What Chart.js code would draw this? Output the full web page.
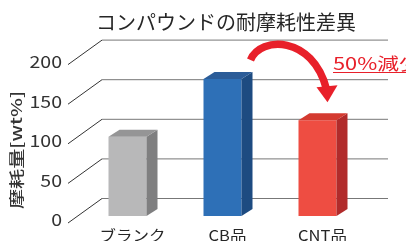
<!DOCTYPE html>
<html>
<head>
<meta charset="utf-8">
<script src="https://cdn.jsdelivr.net/npm/chart.js@4"></script>
<style>
  body { margin: 0; background: #fff; }
  #wrap { width: 406px; height: 241px; }
</style>
</head>
<body>
<div id="wrap"><canvas id="barChart" width="406" height="241"></canvas></div>
<script>
// data
var categories = ['ブランク', 'CB品', 'CNT品'];
var wearValues = [100, 173, 121];
var yTicks = [0, 50, 100, 150, 200];
var chartTitle = 'コンパウンドの耐摩耗性差異';
var yTitle = '摩耗量[wt%]';
var noteText = '50%減少';

// bar faces
var frontColors = ['#b8b8b9', '#2e70b7', '#ee4d42'];
var sideColors = ['#7f7f80', '#1d4b81', '#b12b2b'];
var topColors = ['#959596', '#2b5c98', '#d43a30'];

var jp = "'Noto Sans CJK JP', 'Noto Sans', sans-serif";

function text(ctx, str, x, y, font, color, align, sx, rot) {
    ctx.save();
    ctx.translate(x, y);
    if (rot) ctx.rotate(rot);
    ctx.scale(sx || 1, 1);
    ctx.font = font;
    ctx.fillStyle = color;
    ctx.textAlign = align;
    ctx.textBaseline = 'middle';
    ctx.fillText(str, 0, 0);
    ctx.restore();
}

var deco = {
    id: 'deco',
    beforeDatasetsDraw: function(chart) {
        var ctx = chart.ctx;
        var area = chart.chartArea;
        var ys = chart.scales.y;

        text(ctx, chartTitle, 226, 22, '20px ' + jp, '#262626', 'center', 1);

        ctx.save();
        yTicks.forEach(function(v) {
            var py = ys.getPixelForValue(v);
            // back wall line
            ctx.strokeStyle = '#777';
            ctx.lineWidth = 1;
            ctx.beginPath();
            ctx.moveTo(area.left + 22, py - 17.5);
            ctx.lineTo(area.right + 23, py - 17.5);
            ctx.stroke();
            // diagonal to the front
            ctx.strokeStyle = '#333';
            ctx.beginPath();
            ctx.moveTo(area.left - 12, py + 7);
            ctx.lineTo(area.left + 22, py - 17.5);
            ctx.stroke();
            text(ctx, String(v), 62, py + 4, '17px ' + jp, '#333', 'right', 1.15);
        });
        ctx.restore();

        text(ctx, yTitle, 16, 150, '500 15px ' + jp, '#333', 'center', 1.34, -Math.PI / 2);
    },
    afterDatasetsDraw: function(chart) {
        var ctx = chart.ctx;
        var meta = chart.getDatasetMeta(0);
        var dx = 11, dy = -7;
        var bars = [];

        meta.data.forEach(function(el, i) {
            var p = el.getProps(['x', 'y', 'base', 'width'], true);
            var l = p.x - p.width / 2, r = p.x + p.width / 2;
            bars.push({ l: l, r: r, top: p.y, x: p.x });

            ctx.fillStyle = sideColors[i];
            ctx.beginPath();
            ctx.moveTo(r, p.y);
            ctx.lineTo(r + dx, p.y + dy);
            ctx.lineTo(r + dx, p.base + dy);
            ctx.lineTo(r, p.base);
            ctx.closePath();
            ctx.fill();

            ctx.fillStyle = topColors[i];
            ctx.beginPath();
            ctx.moveTo(l, p.y);
            ctx.lineTo(l + dx, p.y + dy);
            ctx.lineTo(r + dx, p.y + dy);
            ctx.lineTo(r, p.y);
            ctx.closePath();
            ctx.fill();

            text(ctx, categories[i], p.x + 5, 235, '15px ' + jp, '#262626', 'center', 1.1);
        });

        // curved arrow from CB to CNT
        var a = bars[1], b = bars[2];
        var sx = a.r + 9, sy = a.top - 19;
        var ex = b.x + 9, ey = b.top - 31;
        ctx.save();
        ctx.strokeStyle = '#e8202a';
        ctx.fillStyle = '#e8202a';
        ctx.lineWidth = 7.5;
        ctx.beginPath();
        ctx.moveTo(sx, sy);
        ctx.bezierCurveTo(sx + 10, sy - 24, ex - 14, ey - 54, ex, ey);
        ctx.stroke();
        ctx.beginPath();
        ctx.moveTo(ex - 10, ey - 2);
        ctx.lineTo(ex + 11, ey - 4);
        ctx.lineTo(ex + 1, ey + 13);
        ctx.closePath();
        ctx.fill();
        ctx.restore();

        text(ctx, noteText, 333, 64, '17px ' + jp, '#e8202a', 'left', 1.28);
        ctx.fillStyle = '#e8202a';
        ctx.fillRect(333, 72, 73, 1);
    }
};

var ctx = document.getElementById('barChart').getContext('2d');
var myChart = new Chart(ctx, {
    type: 'bar',
    data: {
        labels: categories,
        datasets: [{
            data: wearValues,
            backgroundColor: frontColors,
            borderWidth: 0,
            barPercentage: 0.4,
            categoryPercentage: 1.0
        }]
    },
    options: {
        responsive: false,
        animation: false,
        layout: { padding: { left: 80, right: 41, top: 57.6, bottom: 25 } },
        plugins: { legend: { display: false }, tooltip: { enabled: false }, title: { display: false } },
        scales: {
            x: { display: false },
            y: { display: false, min: 0, max: 200 }
        }
    },
    plugins: [deco]
});
</script>
</body>
</html>
